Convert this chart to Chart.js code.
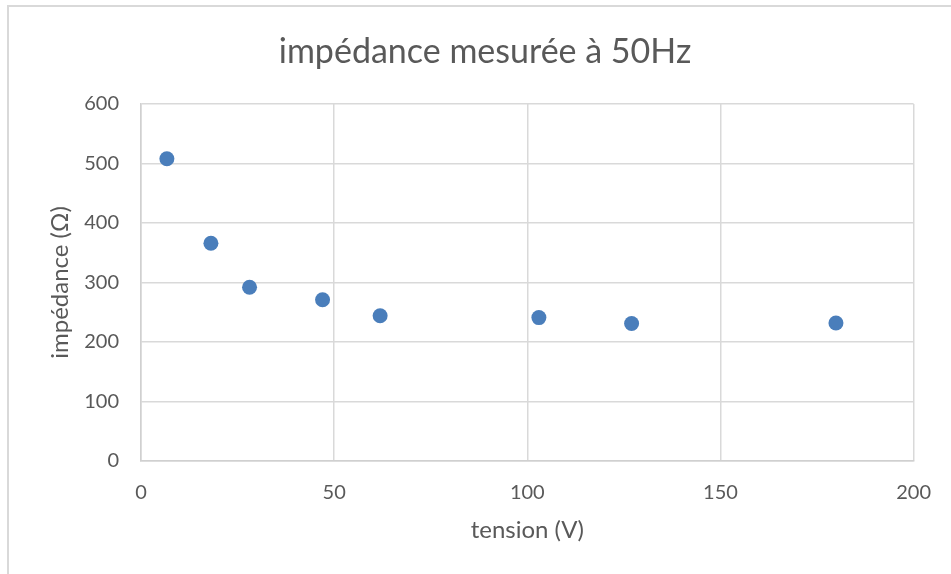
<!DOCTYPE html>
<html><head><meta charset="utf-8">
<script src="https://cdn.jsdelivr.net/npm/chart.js@4"></script>
<style>
html,body{margin:0;padding:0;background:#fff;}
#wrap{position:relative;width:951px;height:574px;overflow:hidden;}
#frame{position:absolute;left:7px;top:5px;width:1000px;height:700px;border:2px solid #d9d9d9;box-sizing:border-box;}
canvas{position:absolute;left:0;top:0;}
</style></head><body>
<div id="wrap"><div id="frame"></div><canvas id="c" width="951" height="574"></canvas></div>
<script>
const chartTitle = "impédance mesurée à 50Hz";
const xAxisTitle = "tension (V)";
const yAxisTitle = "impédance (Ω)";
const tensionV = [6.7, 18.1, 28.1, 47.0, 61.9, 103.0, 127.0, 179.9];
const impedanceOhm = [508, 366, 292, 271, 244, 241, 231, 232];

const points = tensionV.map((v, i) => ({x: v, y: impedanceOhm[i]}));
const txt = '#595959';
const fam = 'Lato, "Open Sans", sans-serif';

const titlePlugin = {
  id: 'fixedTitle',
  afterDraw(chart, args, opts) {
    const ctx = chart.ctx;
    ctx.save();
    ctx.font = `normal ${opts.size}px ${fam}`;
    ctx.fillStyle = txt;
    ctx.textAlign = 'center';
    ctx.textBaseline = 'alphabetic';
    ctx.fillText(opts.text, opts.x, opts.y);
    ctx.restore();
  }
};

new Chart(document.getElementById('c'), {
  type: 'scatter',
  data: {datasets: [{data: points, backgroundColor: '#4a7ebb', borderColor: '#4a7ebb', pointRadius: 7.5, pointHoverRadius: 7.5, borderWidth: 0}]},
  plugins: [titlePlugin],
  options: {
    responsive: false, animation: false,
    layout: {padding: {left: 0, right: 33, top: 104, bottom: 0}},
    plugins: {
      legend: {display: false}, tooltip: {enabled: false}, title: {display: false},
      fixedTitle: {text: chartTitle, size: 34, x: 485, y: 63}
    },
    scales: {
      x: {type: 'linear', min: 0, max: 200,
        ticks: {stepSize: 50, color: txt, font: {family: fam, size: 20}, padding: 20, maxRotation: 0},
        grid: {color: '#d9d9d9', lineWidth: 1.5, drawTicks: false},
        border: {color: '#d0d0d0', width: 1.5},
        title: {display: true, text: xAxisTitle, color: txt, font: {family: fam, size: 24}, padding: {top: 0, bottom: 29}},
        afterFit: s => { s.height = 113; }
      },
      y: {min: 0, max: 600,
        ticks: {stepSize: 100, color: txt, font: {family: fam, size: 20}, padding: 22},
        grid: {color: '#d9d9d9', lineWidth: 1.5, drawTicks: false},
        border: {color: '#d0d0d0', width: 1.5},
        title: {display: true, text: yAxisTitle, color: txt, font: {family: fam, size: 24}, padding: {top: 46, bottom: 0}},
        afterFit: s => { s.width = 141; }
      }
    }
  }
});
</script></body></html>
